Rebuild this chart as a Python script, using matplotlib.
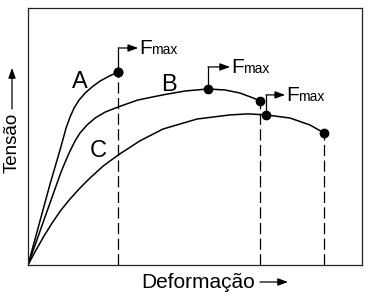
import matplotlib.pyplot as plt
from matplotlib.patches import FancyArrowPatch

plt.rcParams['font.family'] = ['Liberation Sans', 'DejaVu Sans']

# curva A (deformação, tensão) - unidades arbitrárias 0-10
a_def = [0, 0.66, 0.96, 1.14, 1.26, 1.38, 1.53, 1.71, 1.92, 2.16, 2.43, 2.70]
a_ten = [0, 3.15, 4.48, 5.33, 5.76, 6.11, 6.42, 6.69, 6.93, 7.16, 7.35, 7.51]

# curva B
b_def = [0, 0.51, 0.99, 1.14, 1.26, 1.41, 1.56, 1.77, 2.01, 2.31, 2.70, 3.29,
         4.04, 4.70, 5.39, 5.90, 6.35, 6.74, 6.95]
b_ten = [0, 1.87, 3.62, 4.09, 4.44, 4.83, 5.14, 5.45, 5.72, 5.95, 6.15, 6.42,
         6.62, 6.77, 6.85, 6.81, 6.69, 6.50, 6.38]

# curva C
c_def = [0, 0.24, 0.48, 0.72, 0.99, 1.26, 1.56, 1.86, 2.25, 2.70, 3.35, 4.04,
         5.06, 6.05, 6.59, 7.13, 7.84, 8.44, 8.86]
c_ten = [0, 0.58, 1.13, 1.63, 2.14, 2.57, 3.00, 3.39, 3.85, 4.28, 4.83, 5.29,
         5.68, 5.84, 5.88, 5.84, 5.72, 5.45, 5.14]

# pontos de Fmax
fmax_def = [2.70, 5.39, 7.13]
fmax_ten = [7.51, 6.85, 5.84]
# pontos de ruptura
rupt_def = [2.70, 6.95, 8.86]
rupt_ten = [7.51, 6.38, 5.14]

fig = plt.figure(figsize=(3.72, 2.96), dpi=100)
ax = fig.add_axes([28 / 372, 31 / 296, 334 / 372, 257 / 296])
ax.set_xlim(0, 10)
ax.set_ylim(0, 10)
ax.set_xticks([])
ax.set_yticks([])
for s in ax.spines.values():
    s.set_linewidth(0.9)
    s.set_color('#222222')

# escala pixel -> dados
ppx = 10 / 334
ppy = 10 / 257

for x, y in [(a_def, a_ten), (b_def, b_ten), (c_def, c_ten)]:
    ax.plot(x, y, color='black', lw=1.1, solid_joinstyle='round')

# linhas tracejadas até o eixo
for x, y in zip(rupt_def, rupt_ten):
    ax.plot([x, x], [0, y], color='black', lw=0.9, dashes=(9, 3.5))

ax.plot(fmax_def + rupt_def, fmax_ten + rupt_ten, 'o', color='black', ms=6, zorder=5)

seta = '-|>,head_length=0.6,head_width=0.22'

# setas Fmax (altura e comprimento em px)
rise = [24, 22, 20]
run = [20, 22, 19]
for x, y, r, l in zip(fmax_def, fmax_ten, rise, run):
    top = y + r * ppy
    ax.plot([x, x], [y, top], color='black', lw=0.9)
    tip = x + l * ppx
    ax.annotate('', xy=(tip, top), xytext=(x, top),
                arrowprops=dict(arrowstyle=seta, color='black', lw=0.9,
                                shrinkA=0, shrinkB=0, mutation_scale=10))
    base = top - 6.5 * ppy
    ax.text(tip + 1 * ppx, base, 'F', fontsize=15, ha='left', va='baseline')
    ax.text(tip + 13 * ppx, base, 'max', fontsize=10, ha='left', va='baseline')

# rótulos das curvas
ax.text(1.56, 6.89, 'A', fontsize=17, ha='center', va='baseline')
ax.text(4.22, 6.77, 'B', fontsize=17, ha='center', va='baseline')
ax.text(2.10, 4.20, 'C', fontsize=17, ha='center', va='baseline')

# eixos com setas
fig.text(141 / 372, 8 / 296, 'Deformação', fontsize=15, ha='left', va='baseline')
fig.patches.append(FancyArrowPatch(
    (260 / 372, 14 / 296), (288 / 372, 14 / 296), transform=fig.transFigure,
    arrowstyle=seta, mutation_scale=10, color='black', lw=0.9, shrinkA=0, shrinkB=0))

fig.text(17 / 372, 123 / 296, 'Tensão', fontsize=13.5, rotation=90,
         rotation_mode='anchor', ha='left', va='baseline')
fig.patches.append(FancyArrowPatch(
    (12 / 372, 187 / 296), (12 / 372, 228 / 296), transform=fig.transFigure,
    arrowstyle=seta, mutation_scale=10, color='black', lw=0.9, shrinkA=0, shrinkB=0))

plt.savefig('out.png', dpi=100)
